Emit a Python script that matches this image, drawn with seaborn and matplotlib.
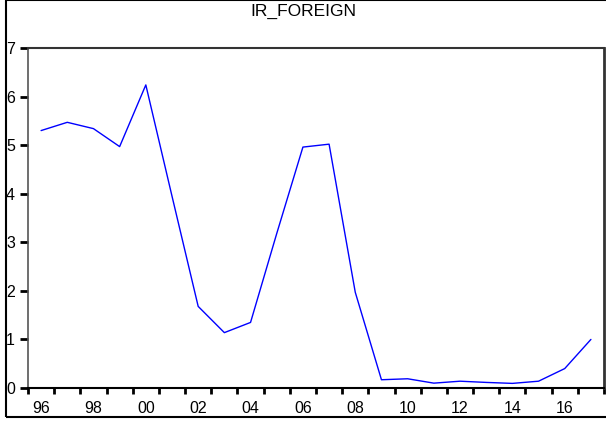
import numpy as np
import pandas as pd
import matplotlib
matplotlib.use("Agg")
import matplotlib.pyplot as plt
from matplotlib.patches import Rectangle
import seaborn as sns

# Annual series IR_FOREIGN, 1996-2017
years = list(range(1996, 2018))
ir_foreign = [5.30, 5.47, 5.34, 4.97, 6.24, 3.95, 1.68, 1.14, 1.35, 3.18,
              4.96, 5.02, 1.97, 0.17, 0.19, 0.10, 0.14, 0.115, 0.095, 0.14,
              0.40, 1.00]
year_labels = ["96", "98", "00", "02", "04", "06", "08", "10", "12", "14", "16"]
label_years = list(range(1996, 2018, 2))

sns.set_style("ticks")
plt.rcParams["font.family"] = ["Liberation Sans", "DejaVu Sans"]

df = pd.DataFrame({"year": years, "value": ir_foreign})

W, H = 606, 423
fig = plt.figure(figsize=(W / 100, H / 100), dpi=100)
ax = fig.add_axes([28 / W, 1 - 388 / H, (604 - 28) / W, (388 - 48) / H])

sns.lineplot(data=df, x="year", y="value", ax=ax, color="#0000ff",
             linewidth=1.0, legend=False)

ax.set_xlim(1995.5, 2017.5)
ax.set_ylim(0, 7)
ax.set_xlabel("")
ax.set_ylabel("")

# x: labels at even years, tick marks on year boundaries
ax.set_xticks(label_years)
ax.set_xticklabels(year_labels)
ax.set_xticks(np.arange(1995.5, 2018.0, 1.0), minor=True)
ax.tick_params(axis="x", which="major", length=0, pad=9, labelsize=11.5,
               colors="black")
ax.tick_params(axis="x", which="minor", length=4.5, width=2, direction="out",
               color="black")
ax.set_yticks(range(0, 8))
ax.tick_params(axis="y", which="major", length=5.8, width=2, pad=3.6,
               labelsize=11.5, colors="black")

for side, col, lw in [("left", "#555555", 1.2), ("bottom", "black", 1.5),
                      ("top", "#333333", 1.5), ("right", "#333333", 2.0)]:
    ax.spines[side].set_visible(True)
    ax.spines[side].set_color(col)
    ax.spines[side].set_linewidth(lw)

# outer frame around the whole graph
fig.patches.append(Rectangle((6 / W, 1 - 416.7 / H), 1.2, 416.7 / H,
                             transform=fig.transFigure, fill=False,
                             edgecolor="black", linewidth=1.5, clip_on=False))

fig.text(303 / W, 1 - 11.5 / H, "IR_FOREIGN", ha="center", va="center",
         fontsize=12.5, color="black")

fig.savefig("out.png", dpi=100)
